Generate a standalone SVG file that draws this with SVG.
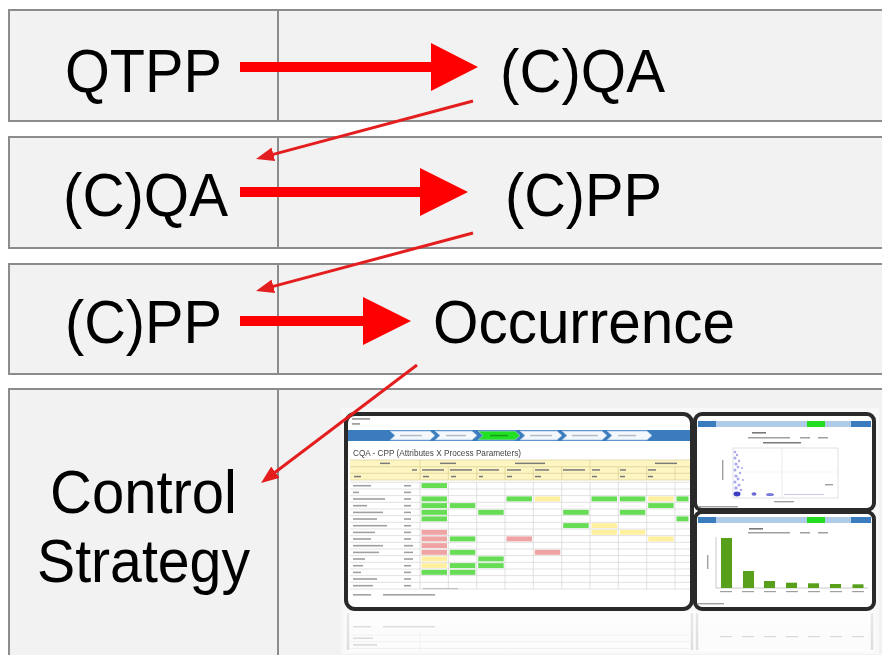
<svg xmlns="http://www.w3.org/2000/svg" width="882" height="655" viewBox="0 0 882 655">
  <defs>
    <style>
      .row{fill:#f2f2f2;stroke:#8c8c8c;stroke-width:2}
      .div{stroke:#8c8c8c;stroke-width:2}
      .lbl{font-family:"Liberation Sans",Arial,sans-serif;font-size:62px;fill:#000}
      .thick{fill:#ff0000}
      .thin{stroke:#e41e1e;stroke-width:3;fill:none;marker-end:url(#head)}
      .frame{fill:#fff;stroke:#2a2a2a;stroke-width:4}
      .grid{stroke:#d4d4d4;stroke-width:0.7;fill:none}
      .hgrid{stroke:#d8cf94;stroke-width:0.7;fill:none}
      .g{fill:#66dd55}
      .y{fill:#fff0a0}
      .p{fill:#f0a3a3}
      .t{fill:#a0a0a0}
      .tb{fill:#7a7a7a}
      .step{fill:#f4f8fc;stroke:#9cc0e0;stroke-width:0.8}
      .bar{fill:#58a01c}
      .pt{fill:#8c8ce6;opacity:0.75}
    </style>
    <marker id="head" viewBox="0 0 18 14" refX="6" refY="7" markerWidth="18" markerHeight="14" markerUnits="userSpaceOnUse" orient="auto">
      <path d="M0,0 L18,7 L0,14 z" fill="#e41e1e"/>
    </marker>
    <linearGradient id="refl" x1="0" y1="0" x2="0" y2="1">
      <stop offset="0" stop-color="#ffffff" stop-opacity="0.95"/>
      <stop offset="1" stop-color="#ffffff" stop-opacity="0.4"/>
    </linearGradient>
    <clipPath id="leftClip"><rect x="348" y="416" width="342" height="191" rx="7"/></clipPath>
    <filter id="soft" x="-5%" y="-5%" width="110%" height="110%"><feGaussianBlur stdDeviation="0.45"/></filter>
  </defs>

  <rect width="882" height="655" fill="#ffffff"/>

  <!-- row 1 -->
  <g id="row-1">
    <rect class="row" x="9" y="10" width="890" height="111"/>
    <line class="div" x1="278" y1="10" x2="278" y2="121"/>
  </g>
  <g id="node-qtpp"><text class="lbl" x="65" y="92" textLength="157" lengthAdjust="spacingAndGlyphs">QTPP</text></g>
  <g id="node-cqa-1"><text class="lbl" x="500" y="92" textLength="165" lengthAdjust="spacingAndGlyphs">(C)QA</text></g>

  <!-- row 2 -->
  <g id="row-2">
    <rect class="row" x="9" y="137" width="890" height="111"/>
    <line class="div" x1="278" y1="137" x2="278" y2="248"/>
  </g>
  <g id="node-cqa-2"><text class="lbl" x="63" y="216" textLength="165" lengthAdjust="spacingAndGlyphs">(C)QA</text></g>
  <g id="node-cpp-1"><text class="lbl" x="505" y="216" textLength="157" lengthAdjust="spacingAndGlyphs">(C)PP</text></g>

  <!-- row 3 -->
  <g id="row-3">
    <rect class="row" x="9" y="264" width="890" height="110"/>
    <line class="div" x1="278" y1="264" x2="278" y2="374"/>
  </g>
  <g id="node-cpp-2"><text class="lbl" x="65" y="343" textLength="157" lengthAdjust="spacingAndGlyphs">(C)PP</text></g>
  <g id="node-occurrence"><text class="lbl" x="433" y="343" textLength="302" lengthAdjust="spacingAndGlyphs">Occurrence</text></g>

  <!-- row 4 -->
  <g id="row-4">
    <rect class="row" x="9" y="389" width="890" height="300"/>
    <line class="div" x1="278" y1="389" x2="278" y2="660"/>
  </g>
  <g id="node-control-strategy">
    <text class="lbl" x="50" y="513" textLength="187" lengthAdjust="spacingAndGlyphs">Control</text>
    <text class="lbl" x="37" y="582" textLength="213" lengthAdjust="spacingAndGlyphs">Strategy</text>
  </g>

  <!-- software screenshot panels -->
  <g id="screenshot">
    <rect x="341" y="408" width="538" height="246" fill="#ffffff" opacity="0.45"/>

    <!-- main table window -->
    <rect class="frame" x="346" y="414" width="346" height="195" rx="9"/>
    <g clip-path="url(#leftClip)" filter="url(#soft)">
      <rect x="352" y="418" width="18" height="1.8" class="t"/>
      <rect x="352" y="423" width="8" height="1.8" class="t"/>
      <rect x="348" y="430" width="342" height="11" fill="#3b7bbf"/>
      <polygon class="step" points="390,431 430,431 435,435.5 430,440 390,440 395,435.5"/>
      <polygon class="step" points="435,431 472,431 477,435.5 472,440 435,440 440,435.5"/>
      <polygon points="478,431 515,431 520,435.5 515,440 478,440 483,435.5" fill="#22e022" stroke="#9cc0e0" stroke-width="0.8"/>
      <polygon class="step" points="520,431 557,431 562,435.5 557,440 520,440 525,435.5"/>
      <polygon class="step" points="562,431 602,431 607,435.5 602,440 562,440 567,435.5"/>
      <polygon class="step" points="607,431 647,431 652,435.5 647,440 607,440 612,435.5"/>
      <rect x="400" y="434.8" width="22" height="1.5" fill="#b4bcc8"/>
      <rect x="446" y="434.8" width="20" height="1.5" fill="#b4bcc8"/>
      <rect x="490" y="434.8" width="18" height="1.5" fill="#1a9a1a"/>
      <rect x="530" y="434.8" width="22" height="1.5" fill="#b4bcc8"/>
      <rect x="572" y="434.8" width="26" height="1.5" fill="#b4bcc8"/>
      <rect x="618" y="434.8" width="18" height="1.5" fill="#b4bcc8"/>

      <text x="353" y="456" font-family="'Liberation Sans',Arial,sans-serif" font-size="9.5" fill="#444" textLength="168" lengthAdjust="spacingAndGlyphs">CQA - CPP (Attributes X Process Parameters)</text>

      <!-- table header -->
      <rect x="350" y="460" width="340" height="20" fill="#fdf5c2"/>
      <path class="hgrid" d="M350,460H690M350,466.7H690M350,473.3H690M350,480H690
        M420,460V480M476.7,466.7V480M505,466.7V480M533.3,466.7V480M561.7,466.7V480M590,460V480M618.3,466.7V480M646.7,466.7V480M675,466.7V480M448.3,466.7V480"/>
      <rect x="380" y="462.6" width="10" height="1.5" class="tb"/>
      <rect x="440" y="462.6" width="16" height="1.5" class="tb"/>
      <rect x="515" y="462.6" width="30" height="1.5" class="tb"/>
      <rect x="655" y="462.6" width="22" height="1.5" class="tb"/>
      <rect x="412" y="469.2" width="5" height="1.5" class="tb"/>
      <rect x="422" y="469.2" width="22" height="1.5" class="tb"/>
      <rect x="450" y="469.2" width="22" height="1.5" class="tb"/>
      <rect x="479" y="469.2" width="20" height="1.5" class="tb"/>
      <rect x="507" y="469.2" width="14" height="1.5" class="tb"/>
      <rect x="535" y="469.2" width="14" height="1.5" class="tb"/>
      <rect x="563" y="469.2" width="22" height="1.5" class="tb"/>
      <rect x="592" y="469.2" width="8" height="1.5" class="tb"/>
      <rect x="620" y="469.2" width="6" height="1.5" class="tb"/>
      <rect x="648" y="469.2" width="8" height="1.5" class="tb"/>
      <rect x="354" y="475.8" width="7" height="1.5" class="tb"/>
      <rect x="423" y="475.8" width="6" height="1.5" class="tb"/>
      <rect x="451" y="475.8" width="5" height="1.5" class="tb"/>
      <rect x="479" y="475.8" width="4" height="1.5" class="tb"/>
      <rect x="507" y="475.8" width="5" height="1.5" class="tb"/>
      <rect x="535" y="475.8" width="6" height="1.5" class="tb"/>
      <rect x="592" y="475.8" width="5" height="1.5" class="tb"/>
      <rect x="620" y="475.8" width="5" height="1.5" class="tb"/>
      <rect x="648" y="475.8" width="5" height="1.5" class="tb"/>

      <!-- table body cells -->
      <rect class="g" x="421.5" y="483.1" width="25.5" height="5"/>
      <rect class="g" x="421.5" y="496.4" width="25.5" height="5"/>
      <rect class="g" x="506.5" y="496.4" width="25.5" height="5"/>
      <rect class="y" x="534.8" y="496.4" width="25.5" height="5"/>
      <rect class="g" x="591.5" y="496.4" width="25.5" height="5"/>
      <rect class="g" x="619.8" y="496.4" width="25.5" height="5"/>
      <rect class="y" x="648.2" y="496.4" width="25.5" height="5"/>
      <rect class="g" x="676.5" y="496.4" width="12" height="5"/>
      <rect class="g" x="421.5" y="503.1" width="25.5" height="5"/>
      <rect class="g" x="449.8" y="503.1" width="25.5" height="5"/>
      <rect class="g" x="648.2" y="503.1" width="25.5" height="5"/>
      <rect class="g" x="421.5" y="509.8" width="25.5" height="5"/>
      <rect class="g" x="478.2" y="509.8" width="25.5" height="5"/>
      <rect class="g" x="563.2" y="509.8" width="25.5" height="5"/>
      <rect class="g" x="619.8" y="509.8" width="25.5" height="5"/>
      <rect class="g" x="421.5" y="516.4" width="25.5" height="5"/>
      <rect class="g" x="676.5" y="516.4" width="12" height="5"/>
      <rect class="g" x="563.2" y="523.1" width="25.5" height="5"/>
      <rect class="y" x="591.5" y="523.1" width="25.5" height="5"/>
      <rect class="p" x="421.5" y="529.8" width="25.5" height="5"/>
      <rect class="y" x="591.5" y="529.8" width="25.5" height="5"/>
      <rect class="y" x="619.8" y="529.8" width="25.5" height="5"/>
      <rect class="p" x="421.5" y="536.4" width="25.5" height="5"/>
      <rect class="g" x="449.8" y="536.4" width="25.5" height="5"/>
      <rect class="p" x="506.5" y="536.4" width="25.5" height="5"/>
      <rect class="y" x="648.2" y="536.4" width="25.5" height="5"/>
      <rect class="p" x="421.5" y="543.1" width="25.5" height="5"/>
      <rect class="p" x="421.5" y="549.8" width="25.5" height="5"/>
      <rect class="g" x="449.8" y="549.8" width="25.5" height="5"/>
      <rect class="p" x="534.8" y="549.8" width="25.5" height="5"/>
      <rect class="y" x="421.5" y="556.4" width="25.5" height="5"/>
      <rect class="g" x="478.2" y="556.4" width="25.5" height="5"/>
      <rect class="y" x="421.5" y="563.1" width="25.5" height="5"/>
      <rect class="g" x="449.8" y="563.1" width="25.5" height="5"/>
      <rect class="g" x="478.2" y="563.1" width="25.5" height="5"/>
      <rect class="g" x="421.5" y="569.8" width="25.5" height="5"/>
      <rect class="g" x="449.8" y="569.8" width="25.5" height="5"/>

      <!-- table grid -->
      <path class="grid" d="M350,482.3H690M350,489H690M350,495.6H690M350,502.3H690M350,509H690M350,515.6H690M350,522.3H690M350,529H690M350,535.6H690M350,542.3H690M350,549H690M350,555.6H690M350,562.3H690M350,569H690M350,575.6H690M350,582.3H690M350,589H690
        M420,482.3V589M448.3,482.3V589M476.7,482.3V589M505,482.3V589M533.3,482.3V589M561.7,482.3V589M590,482.3V589M618.3,482.3V589M646.7,482.3V589M675,482.3V589"/>

      <!-- row labels -->
      <rect class="t" x="353" y="484.9" width="18" height="1.6"/><rect class="t" x="404" y="484.9" width="7" height="1.6"/>
      <rect class="t" x="353" y="491.6" width="6" height="1.6"/><rect class="t" x="404" y="491.6" width="7" height="1.6"/>
      <rect class="t" x="353" y="498.2" width="32" height="1.6"/><rect class="t" x="404" y="498.2" width="7" height="1.6"/>
      <rect class="t" x="353" y="504.9" width="14" height="1.6"/><rect class="t" x="404" y="504.9" width="7" height="1.6"/>
      <rect class="t" x="353" y="511.6" width="30" height="1.6"/><rect class="t" x="404" y="511.6" width="7" height="1.6"/>
      <rect class="t" x="353" y="518.2" width="24" height="1.6"/><rect class="t" x="404" y="518.2" width="7" height="1.6"/>
      <rect class="t" x="353" y="524.9" width="34" height="1.6"/><rect class="t" x="404" y="524.9" width="7" height="1.6"/>
      <rect class="t" x="353" y="531.6" width="22" height="1.6"/><rect class="t" x="404" y="531.6" width="7" height="1.6"/>
      <rect class="t" x="353" y="538.2" width="18" height="1.6"/><rect class="t" x="404" y="538.2" width="7" height="1.6"/>
      <rect class="t" x="353" y="544.9" width="30" height="1.6"/><rect class="t" x="404" y="544.9" width="9" height="1.6"/>
      <rect class="t" x="353" y="551.6" width="26" height="1.6"/><rect class="t" x="404" y="551.6" width="9" height="1.6"/>
      <rect class="t" x="353" y="558.2" width="12" height="1.6"/><rect class="t" x="404" y="558.2" width="9" height="1.6"/>
      <rect class="t" x="353" y="564.9" width="10" height="1.6"/><rect class="t" x="404" y="564.9" width="7" height="1.6"/>
      <rect class="t" x="353" y="571.6" width="8" height="1.6"/><rect class="t" x="404" y="571.6" width="7" height="1.6"/>
      <rect class="t" x="353" y="578.2" width="24" height="1.6"/><rect class="t" x="404" y="578.2" width="7" height="1.6"/>
      <rect class="t" x="353" y="584.9" width="20" height="1.6"/><rect class="t" x="404" y="584.9" width="7" height="1.6"/>

      <!-- footer -->
      <rect x="423" y="588" width="35" height="1.2" fill="#c0c0c0"/>
      <rect class="t" x="353" y="594" width="18" height="1.6"/>
      <rect class="t" x="383" y="594" width="52" height="1.6"/>
    </g>

    <!-- scatter plot window -->
    <rect class="frame" x="695" y="414" width="179" height="96" rx="7"/>
    <g filter="url(#soft)">
      <rect x="698" y="421" width="173" height="6" fill="#aecbe8"/>
      <rect x="698" y="421" width="18" height="6" fill="#3b7bbf"/>
      <rect x="851" y="421" width="20" height="6" fill="#3b7bbf"/>
      <rect x="807" y="421" width="18" height="6" fill="#22dd22"/>
      <rect class="tb" x="752" y="432" width="14" height="1.6"/>
      <rect class="t" x="748" y="437" width="42" height="1.5"/>
      <rect class="t" x="800" y="437" width="10" height="1.5"/>
      <rect class="t" x="818" y="437" width="10" height="1.5"/>
      <rect class="tb" x="763" y="442" width="38" height="1.5"/>
      <rect x="733" y="448" width="105" height="50" fill="none" stroke="#cccccc" stroke-width="0.6"/>
      <line x1="782" y1="448" x2="782" y2="498" stroke="#dddddd" stroke-width="0.6"/>
      <line x1="733" y1="472" x2="838" y2="472" stroke="#eeeeee" stroke-width="0.5"/>
      <rect class="t" x="774" y="501" width="20" height="1.4"/>
      <rect class="t" x="722" y="460" width="1.4" height="20"/>
      <rect class="t" x="825" y="484" width="8" height="1.4"/>
      <rect class="t" x="698" y="506" width="40" height="1.4"/>
      <circle class="pt" cx="735" cy="452" r="1.3"/><circle class="pt" cx="737" cy="455" r="1.2"/>
      <circle class="pt" cx="735" cy="458" r="1.5"/><circle class="pt" cx="739" cy="461" r="1.2"/>
      <circle class="pt" cx="736" cy="464" r="1.6"/><circle class="pt" cx="738" cy="467" r="1.3"/>
      <circle class="pt" cx="735" cy="470" r="1.5"/><circle class="pt" cx="740" cy="473" r="1.2"/>
      <circle class="pt" cx="736" cy="476" r="1.6"/><circle class="pt" cx="738" cy="479" r="1.4"/>
      <circle class="pt" cx="735" cy="482" r="1.6"/><circle class="pt" cx="739" cy="485" r="1.5"/>
      <circle class="pt" cx="736" cy="488" r="1.7"/><circle class="pt" cx="741" cy="490" r="1.3"/>
      <circle class="pt" cx="742" cy="468" r="1.0"/><circle class="pt" cx="743" cy="480" r="1.0"/>
      <ellipse cx="737" cy="494" rx="3.5" ry="2.4" fill="#3c3cc8"/>
      <ellipse cx="754" cy="494" rx="2.5" ry="1.8" fill="#6a6ad2"/>
      <ellipse cx="770" cy="494.5" rx="4" ry="1.6" fill="#7a7ad8"/>
      <rect x="784" y="494" width="40" height="1" fill="#c8c8e8"/>
    </g>

    <!-- bar chart window -->
    <rect class="frame" x="695" y="512" width="179" height="97" rx="7"/>
    <g filter="url(#soft)">
      <rect x="698" y="517" width="173" height="6" fill="#aecbe8"/>
      <rect x="698" y="517" width="18" height="6" fill="#3b7bbf"/>
      <rect x="851" y="517" width="20" height="6" fill="#3b7bbf"/>
      <rect x="807" y="517" width="18" height="6" fill="#22dd22"/>
      <rect class="tb" x="749" y="528" width="14" height="1.6"/>
      <rect class="t" x="748" y="532" width="42" height="1.5"/>
      <rect class="t" x="800" y="532" width="10" height="1.5"/>
      <rect class="t" x="818" y="532" width="10" height="1.5"/>
      <line x1="716" y1="537" x2="716" y2="588" stroke="#bbbbbb" stroke-width="0.8"/>
      <line x1="716" y1="588" x2="868" y2="588" stroke="#bbbbbb" stroke-width="0.8"/>
      <rect class="t" x="707" y="555" width="1.4" height="14"/>
      <rect class="bar" x="721" y="538" width="11" height="50"/>
      <rect class="bar" x="743" y="571" width="11" height="17"/>
      <rect class="bar" x="764" y="581" width="11" height="7"/>
      <rect class="bar" x="786" y="582.7" width="11" height="5.3"/>
      <rect class="bar" x="808" y="583.3" width="11" height="4.7"/>
      <rect class="bar" x="830" y="584" width="11" height="4"/>
      <rect class="bar" x="852.5" y="584.3" width="11" height="3.7"/>
      <rect class="t" x="720" y="591" width="12" height="1.2"/>
      <rect class="t" x="742" y="591" width="12" height="1.2"/>
      <rect class="t" x="764" y="591" width="12" height="1.2"/>
      <rect class="t" x="786" y="591" width="12" height="1.2"/>
      <rect class="t" x="808" y="591" width="12" height="1.2"/>
      <rect class="t" x="830" y="591" width="12" height="1.2"/>
      <rect class="t" x="852" y="591" width="12" height="1.2"/>
      <rect class="t" x="698" y="603" width="26" height="1.4"/>
    </g>

    <!-- mirrored reflection under the windows -->
    <g id="reflection" opacity="0.55" filter="url(#soft)">
      <rect x="346" y="612" width="528" height="40" fill="#ffffff"/>
      <path d="M348,613V650M692,613V650M697,613V650M872,613V650" stroke="#b8b8b8" stroke-width="2.5"/>
      <rect class="t" x="353" y="626" width="18" height="1.4"/>
      <rect class="t" x="383" y="626" width="52" height="1.4"/>
      <path class="grid" d="M350,635H690M350,641.7H690M350,648.4H690M420,632V652"/>
      <rect class="t" x="353" y="637.5" width="20" height="1.4"/>
      <rect class="t" x="353" y="644.2" width="24" height="1.4"/>
      <rect class="t" x="720" y="636" width="12" height="1.2"/>
      <rect class="t" x="742" y="636" width="12" height="1.2"/>
      <rect class="t" x="764" y="636" width="12" height="1.2"/>
      <rect class="t" x="786" y="636" width="12" height="1.2"/>
      <rect class="t" x="808" y="636" width="12" height="1.2"/>
      <rect class="t" x="830" y="636" width="12" height="1.2"/>
      <rect class="t" x="852" y="636" width="12" height="1.2"/>
    </g>
    <rect x="344" y="611" width="532" height="42" fill="url(#refl)" opacity="0.5"/>
  </g>

  <!-- connectors -->
  <g id="connectors">
    <path class="thick" d="M240,62H431V43L478,67L431,91V72H240Z"/>
    <path class="thick" d="M240,187H420V168L468,192L420,216V197H240Z"/>
    <path class="thick" d="M240,316H363V297L411,321L363,345V326H240Z"/>
    <line class="thin" x1="473" y1="101" x2="267.6" y2="155.9"/>
    <line class="thin" x1="473" y1="233" x2="267.6" y2="287.9"/>
    <line class="thin" x1="417" y1="365" x2="270.6" y2="475.8"/>
  </g>
</svg>
